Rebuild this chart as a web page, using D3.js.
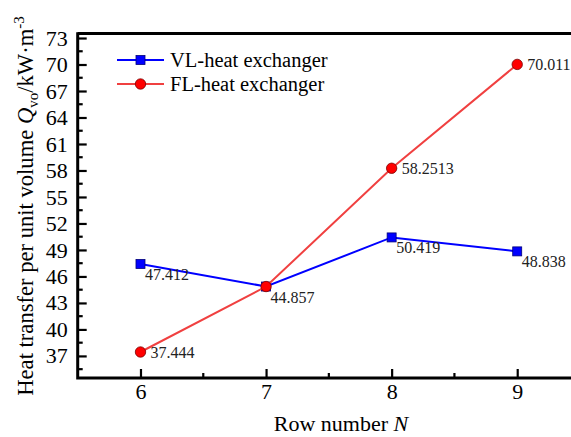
<!DOCTYPE html>
<html>
<head>
<meta charset="utf-8">
<script src="https://cdn.jsdelivr.net/npm/d3@7"></script>
<style>
  html, body { margin: 0; padding: 0; background: #fff; }
  svg { display: block; font-family: "Liberation Serif", "Times New Roman", serif; }
</style>
</head>
<body>
<svg id="chart" width="571" height="437"></svg>
<script>
// Row numbers and heat transfer per unit volume for the two exchangers
const rows = [6, 7, 8, 9];
const vlValues = [47.412, 44.857, 50.419, 48.838];
const flValues = [37.444, 44.857, 58.2513, 70.011];
const vlLabels = ["47.412", "44.857", "50.419", "48.838"];
const flLabels = ["37.444", "", "58.2513", "70.011"];
const yTickValues = [37, 40, 43, 46, 49, 52, 55, 58, 61, 64, 67, 70, 73];
const xTickValues = [6, 7, 8, 9];

const svg = d3.select("#chart");

const x = d3.scaleLinear().domain([5.5, 9.5]).range([77.7, 580]);
const y = d3.scaleLinear().domain([34.5, 73.5]).range([378, 33.6]);

const plotLeft = x(5.5), plotRight = x(9.5), plotTop = y(73.5), plotBottom = y(34.5);

// Y axis: ticks point inward, with minor ticks half-way between
const yMinor = d3.range(35.5, 73.5, 3);
svg.append("g").selectAll("line").data(yMinor).join("line")
  .attr("x1", plotLeft).attr("x2", plotLeft + 5)
  .attr("y1", d => y(d)).attr("y2", d => y(d))
  .attr("stroke", "#000").attr("stroke-width", 2.2);

const yAxis = svg.append("g")
  .attr("transform", `translate(${plotLeft},0)`)
  .call(d3.axisRight(y).tickValues(yTickValues).tickSize(9).tickFormat(d3.format("d")));
yAxis.select(".domain").remove();
yAxis.selectAll(".tick line").attr("stroke-width", 2.2);
yAxis.selectAll(".tick text")
  .attr("x", -10).attr("text-anchor", "end")
  .attr("font-size", 22).attr("font-family", "Liberation Serif").attr("fill", "#000");

// X axis: ticks point inward (upwards)
const xMinor = [6.5, 7.5, 8.5];
svg.append("g").selectAll("line").data(xMinor).join("line")
  .attr("x1", d => x(d)).attr("x2", d => x(d))
  .attr("y1", plotBottom).attr("y2", plotBottom - 5)
  .attr("stroke", "#000").attr("stroke-width", 2.2);

const xAxis = svg.append("g")
  .attr("transform", `translate(0,${plotBottom})`)
  .call(d3.axisTop(x).tickValues(xTickValues).tickSize(9).tickFormat(d3.format("d")));
xAxis.select(".domain").remove();
xAxis.selectAll(".tick line").attr("stroke-width", 2.2);
xAxis.selectAll(".tick text")
  .attr("y", 21).attr("dy", "0")
  .attr("font-size", 22).attr("font-family", "Liberation Serif").attr("fill", "#000");

// Frame lines: left, bottom, top
svg.append("path")
  .attr("d", `M${plotLeft},${plotTop}H${plotRight}M${plotLeft},${plotTop - 1.4}V${plotBottom + 1.4}M${plotLeft - 1.4},${plotBottom}H${plotRight}`)
  .attr("fill", "none").attr("stroke", "#000").attr("stroke-width", 3);

// Series
const vlData = rows.map((r, i) => ({ r, v: vlValues[i], label: vlLabels[i] }));
const flData = rows.map((r, i) => ({ r, v: flValues[i], label: flLabels[i] }));
const line = d3.line().x(d => x(d.r)).y(d => y(d.v));

svg.append("path").datum(vlData).attr("d", line)
  .attr("fill", "none").attr("stroke", "#0000ff").attr("stroke-width", 2);
svg.append("g").selectAll("rect").data(vlData).join("rect")
  .attr("x", d => x(d.r) - 4.5).attr("y", d => y(d.v) - 4.5)
  .attr("width", 9).attr("height", 9)
  .attr("fill", "#0000ff").attr("stroke", "#00007a").attr("stroke-width", 0.8);

svg.append("path").datum(flData).attr("d", line)
  .attr("fill", "none").attr("stroke", "#f04040").attr("stroke-width", 2);
svg.append("g").selectAll("circle").data(flData).join("circle")
  .attr("cx", d => x(d.r)).attr("cy", d => y(d.v)).attr("r", 5.2)
  .attr("fill", "#ff0000").attr("stroke", "#7a0000").attr("stroke-width", 0.8);

// Value labels
svg.append("g").selectAll("text").data(vlData).join("text")
  .attr("x", d => x(d.r) + 4.5).attr("y", d => y(d.v) + 16)
  .attr("font-size", 16).attr("fill", "#222")
  .text(d => d.label);
svg.append("g").selectAll("text").data(flData.filter(d => d.label)).join("text")
  .attr("x", d => x(d.r) + 10).attr("y", d => y(d.v) + 6)
  .attr("font-size", 16).attr("fill", "#222")
  .text(d => d.label);

// Legend
const legend = svg.append("g");
const legendItems = [
  { name: "VL-heat exchanger", color: "#0000ff", shape: "square", cy: 60 },
  { name: "FL-heat exchanger", color: "#f04040", shape: "circle", cy: 84 }
];
legendItems.forEach(it => {
  legend.append("line").attr("x1", 117).attr("x2", 164).attr("y1", it.cy).attr("y2", it.cy)
    .attr("stroke", it.color).attr("stroke-width", 2);
  if (it.shape === "square") {
    legend.append("rect").attr("x", 136).attr("y", it.cy - 4.5).attr("width", 9).attr("height", 9)
      .attr("fill", "#0000ff").attr("stroke", "#00007a").attr("stroke-width", 0.8);
  } else {
    legend.append("circle").attr("cx", 140.5).attr("cy", it.cy).attr("r", 5.2)
      .attr("fill", "#ff0000").attr("stroke", "#7a0000").attr("stroke-width", 0.8);
  }
  legend.append("text").attr("x", 170).attr("y", it.cy + 7)
    .attr("font-size", 20.5).attr("fill", "#000").text(it.name);
});

// Axis titles
const xTitle = svg.append("text")
  .attr("x", 341).attr("y", 431).attr("text-anchor", "middle")
  .attr("font-size", 22).attr("fill", "#000");
xTitle.append("tspan").text("Row number ");
xTitle.append("tspan").attr("font-style", "italic").text("N");

const yTitle = svg.append("text")
  .attr("transform", "translate(33,206) rotate(-90)")
  .attr("text-anchor", "middle")
  .attr("font-size", 22.6).attr("fill", "#000");
yTitle.append("tspan").text("Heat transfer per unit volume ");
yTitle.append("tspan").attr("font-style", "italic").text("Q");
yTitle.append("tspan").attr("font-size", 15).attr("dy", 5).text("vo");
yTitle.append("tspan").attr("dy", -5).text("/kW\u00b7m");
yTitle.append("tspan").attr("font-size", 15).attr("dy", -9).text("-3");
</script>
</body>
</html>
